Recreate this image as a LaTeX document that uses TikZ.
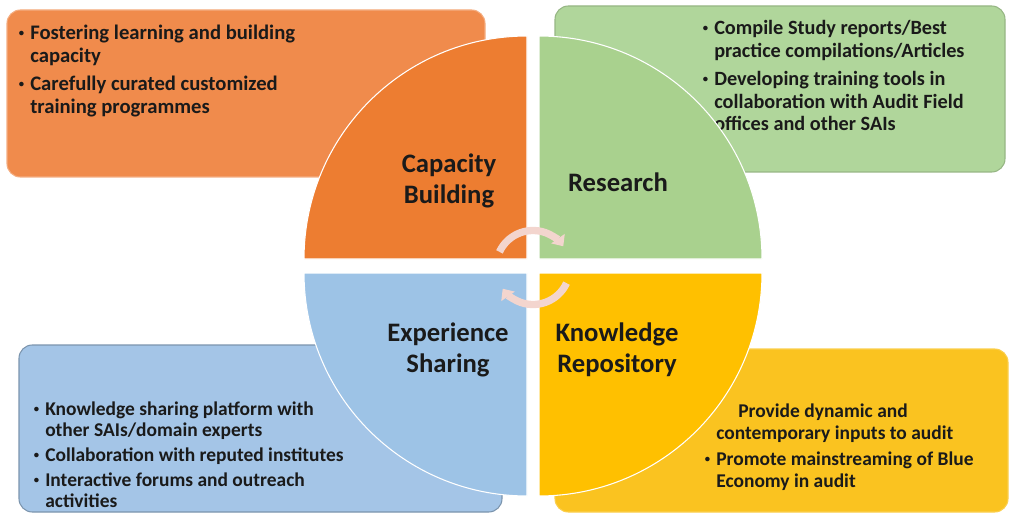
\documentclass[tikz,border=0pt]{standalone}
\usepackage{fontspec}
\setmainfont{Carlito}
\usetikzlibrary{arrows.meta}
\definecolor{cbquad}{HTML}{ED7D31}
\definecolor{cbbox}{HTML}{F08B4C}
\definecolor{rsquad}{HTML}{A9D18E}
\definecolor{rsbox}{HTML}{B0D69B}
\definecolor{esquad}{HTML}{9DC3E6}
\definecolor{esbox}{HTML}{A4C5E7}
\definecolor{krquad}{HTML}{FFC000}
\definecolor{krbox}{HTML}{FAC320}
\definecolor{arrowpink}{HTML}{F3D5CE}
\definecolor{ink}{HTML}{1A1A1A}
\newcommand{\itembul}{\llap{\raisebox{2.2pt}{\fontsize{8}{8}\selectfont\textbullet}\hspace{4.5pt}}}
\begin{document}
\begin{tikzpicture}[x=0.75pt,y=0.75pt,
	quad/.style={draw=white, line width=0.8pt},
	box/.style={rounded corners=10pt, line width=0.8pt},
	title/.style={font=\fontsize{20}{23}\selectfont\bfseries, text=ink, align=center, inner sep=0pt},
	note/.style={anchor=north west, align=left, inner sep=0pt, text=ink},
	cyclearrow/.style={arrowpink, line width=5.5pt, -{Triangle[width=12pt,length=7pt]}}]
		\useasboundingbox (0,0) rectangle (1010,515);
		\draw[box, fill=cbbox, draw=cbbox!70!white] (7,338) rectangle (485,505);
		\draw[box, fill=rsbox, draw=rsbox!85!black] (555,343) rectangle (1005,509);
		\draw[box, fill=esbox, draw=esbox!75!black] (19,3) rectangle (502,170);
		\draw[box, fill=krbox, draw=krbox!80!white] (555,3) rectangle (1008,166);
		\node[note, font=\fontsize{15.5}{17.4}\selectfont\bfseries] (cbnote) at (30,490) {\itembul Fostering learning and building\\capacity\\[3pt]\itembul Carefully curated customized\\training programmes};
		\node[note, font=\fontsize{15.2}{16.9}\selectfont\bfseries] (rsnote) at (714,495) {\itembul Compile Study reports/Best\\practice compilations/Articles\\[4.5pt]\itembul Developing training tools in\\collaboration with Audit Field\\offices and other SAIs};
		\node[note, font=\fontsize{14.6}{15.75}\selectfont\bfseries] (esnote) at (45,113.5) {\itembul Knowledge sharing platform with\\other SAIs/domain experts\\[3pt]\itembul Collaboration with reputed institutes\\[3pt]\itembul Interactive forums and outreach\\activities};
		\node[note, font=\fontsize{14.6}{16.5}\selectfont\bfseries] (krnote) at (716,111) {\hspace*{16.5pt}Provide dynamic and\\contemporary inputs to audit\\[3pt]\itembul Promote mainstreaming of Blue\\Economy in audit};
		\filldraw[quad, fill=cbquad] (527,256) -- (304,256) arc[start angle=180, end angle=90, radius=223] -- cycle;
		\filldraw[quad, fill=rsquad] (539,256) -- (539,479) arc[start angle=90, end angle=0, radius=223] -- cycle;
		\filldraw[quad, fill=esquad] (527,242) -- (527,19) arc[start angle=270, end angle=180, radius=223] -- cycle;
		\filldraw[quad, fill=krquad] (539,242) -- (762,242) arc[start angle=0, end angle=-90, radius=223] -- cycle;
		\node[title] (cb) at (449,334) {Capacity\\Building};
		\node[title] (rs) at (618,333) {Research};
		\node[title] (es) at (448,165) {Experience\\Sharing};
		\node[title] (kr) at (617,165) {Knowledge\\Repository};
		\coordinate (hub) at (533,247.5);
		\draw[cyclearrow] ([shift={(155:37)}]hub) arc[start angle=155, end angle=35, radius=37];
		\draw[cyclearrow] ([shift={(-25:37)}]hub) arc[start angle=-25, end angle=-145, radius=37];
	\end{tikzpicture}
\end{document}
